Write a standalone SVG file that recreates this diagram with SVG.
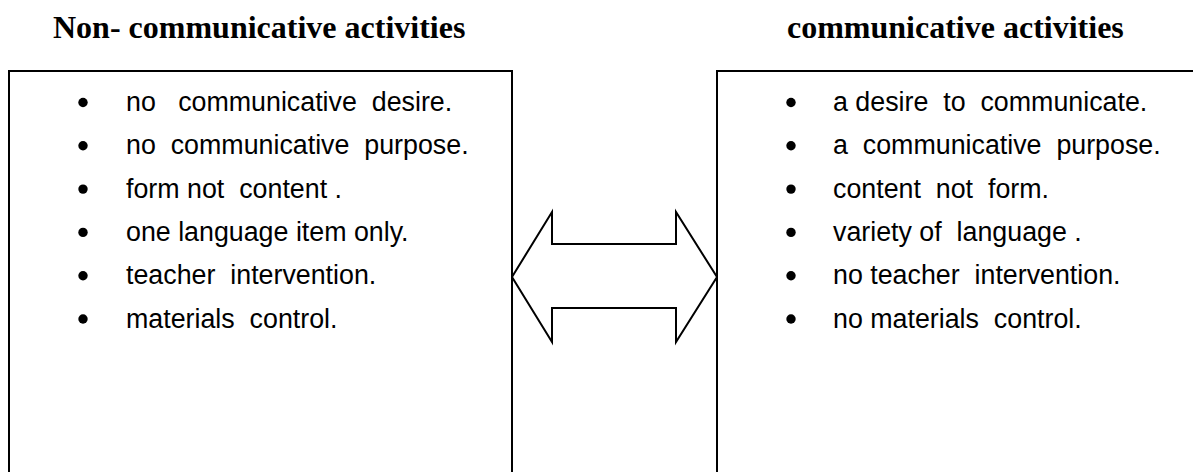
<svg xmlns="http://www.w3.org/2000/svg" width="1193" height="472" viewBox="0 0 1193 472">
  <style>
    .frame { fill: none; stroke: #000; stroke-width: 2; }
    .title { font-family: "Liberation Serif", "Times New Roman", serif; font-weight: bold; font-size: 32px; fill: #000; }
    .item { font-family: "Liberation Sans", Arial, sans-serif; font-size: 26.8px; fill: #000; white-space: pre; }
    .bullet { fill: #000; }
    .arrow { fill: #fff; stroke: #000; stroke-width: 2; stroke-linejoin: miter; }
  </style>
  <rect width="1193" height="472" fill="#fff"/>

  <g id="left-node">
    <text class="title" x="53" y="38">Non- communicative activities</text>
    <path class="frame" d="M9,480 V71 H512 V480"/>
    <g class="bullets">
      <circle class="bullet" cx="83" cy="102.5" r="4.7"/>
      <circle class="bullet" cx="83" cy="145.8" r="4.7"/>
      <circle class="bullet" cx="83" cy="189.1" r="4.7"/>
      <circle class="bullet" cx="83" cy="232.4" r="4.7"/>
      <circle class="bullet" cx="83" cy="275.7" r="4.7"/>
      <circle class="bullet" cx="83" cy="319" r="4.7"/>
    </g>
    <text class="item" xml:space="preserve" x="126" y="111">no   communicative  desire.</text>
    <text class="item" xml:space="preserve" x="126" y="154.3">no  communicative  purpose.</text>
    <text class="item" xml:space="preserve" x="126" y="197.6">form not  content .</text>
    <text class="item" xml:space="preserve" x="126" y="240.9">one language item only.</text>
    <text class="item" xml:space="preserve" x="126" y="284.2">teacher  intervention.</text>
    <text class="item" xml:space="preserve" x="126" y="327.5">materials  control.</text>
  </g>

  <g id="right-node">
    <text class="title" x="787" y="38">communicative activities</text>
    <path class="frame" d="M717,480 V71 H1200"/>
    <g class="bullets">
      <circle class="bullet" cx="791" cy="102.5" r="4.7"/>
      <circle class="bullet" cx="791" cy="145.8" r="4.7"/>
      <circle class="bullet" cx="791" cy="189.1" r="4.7"/>
      <circle class="bullet" cx="791" cy="232.4" r="4.7"/>
      <circle class="bullet" cx="791" cy="275.7" r="4.7"/>
      <circle class="bullet" cx="791" cy="319" r="4.7"/>
    </g>
    <text class="item" xml:space="preserve" x="833" y="111">a desire  to  communicate.</text>
    <text class="item" xml:space="preserve" x="833" y="154.3">a  communicative  purpose.</text>
    <text class="item" xml:space="preserve" x="833" y="197.6">content  not  form.</text>
    <text class="item" xml:space="preserve" x="833" y="240.9">variety of  language .</text>
    <text class="item" xml:space="preserve" x="833" y="284.2">no teacher  intervention.</text>
    <text class="item" xml:space="preserve" x="833" y="327.5">no materials  control.</text>
  </g>

  <g id="connectors">
    <polygon class="arrow" points="512,277 552,212 552,244 676,244 676,212 717,277 676,342 676,308 552,308 552,342"/>
  </g>
</svg>
